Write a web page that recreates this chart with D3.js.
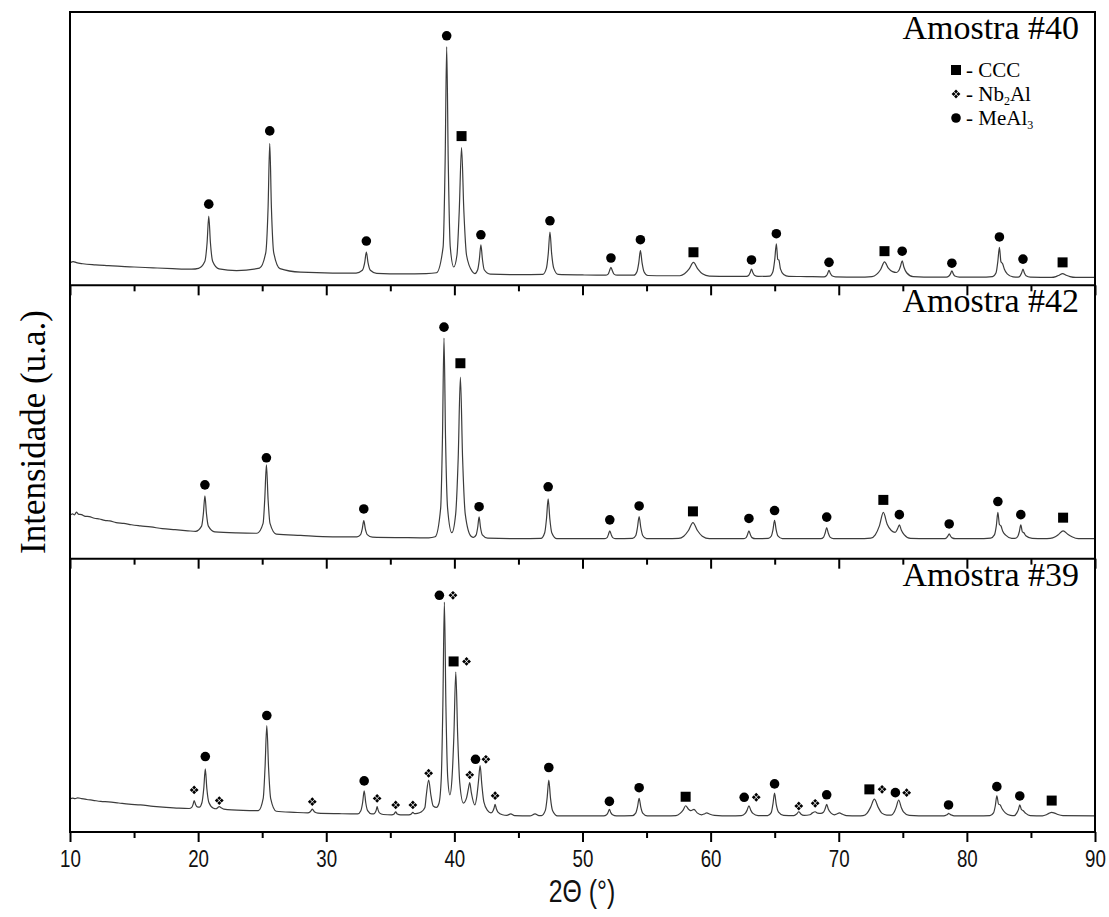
<!DOCTYPE html>
<html>
<head>
<meta charset="utf-8">
<script src="https://cdn.jsdelivr.net/npm/d3@7"></script>
<style>
  html, body { margin: 0; padding: 0; background: #fff; }
  svg { display: block; }
</style>
</head>
<body>
<svg id="chart" width="1109" height="917"></svg>
<script>
// X-ray diffraction patterns, intensity in arbitrary units (0-100 per panel)
const sampleNames = ["Amostra #40", "Amostra #42", "Amostra #39"];
const xTicksMajor = [10, 20, 30, 40, 50, 60, 70, 80, 90];
const xTicksMinor = [15, 25, 35, 45, 55, 65, 75, 85];
const phaseLegend = [
  { code: "C", text: "- CCC", sub: null, tail: "" },
  { code: "N", text: "- Nb", sub: "2", tail: "Al" },
  { code: "M", text: "- MeAl", sub: "3", tail: "" }
];

// [2θ, intensity]
const profile40 = [
  [10,8.2],[10.25,8.7],[10.5,8.3],[11,7.9],[12,7.5],[13,7.2],[14,6.9],[15,6.7],[16.5,6.4],[18,6.1],[19.5,5.9],
  [20.03,6.2],[20.52,8.7],[20.70,15.6],[20.83,25.3],[20.96,15.6],[21.14,8.7],[21.63,6.0],
  [23,5.4],
  [24.79,6.3],[25.28,12.0],[25.46,28.5],[25.59,51.9],[25.72,28.5],[25.9,12.0],[26.39,6.1],
  [28,4.8],[30.5,4.5],
  [32.33,4.5],[32.82,5.5],[33.0,8.3],[33.13,12.2],[33.26,8.3],[33.44,5.5],[33.93,4.4],
  [36,4.2],[37.8,4.3],
  [38.6,4.6],[39.12,14],[39.28,45.7],[39.4,87.3],[39.52,45.7],[39.68,14],[39.95,6.7],
  [40.2,11.0],[40.38,27.2],[40.56,50.4],[40.74,27.2],[40.95,11.0],[41.4,5.0],
  [41.6,4.3],[41.82,5.7],[41.95,9.5],[42.07,14.8],[42.19,9.5],[42.33,5.7],[42.8,4.1],
  [45,3.9],
  [46.9,4.0],[47.18,6.2],[47.33,11.7],[47.46,19.5],[47.59,11.7],[47.76,6.2],[48.1,4.0],
  [50,3.8],
  [51.8,3.7],[52.0,4.1],[52.1,5.2],[52.22,6.6],[52.34,5.2],[52.46,4.1],[52.7,3.7],
  [54.0,3.7],[54.25,5.0],[54.39,8.2],[54.52,12.7],[54.65,8.2],[54.8,5.0],[55.1,3.6],
  [56.5,3.5],
  [57.6,3.5],[57.96,4.2],[58.31,5.9],[58.66,8.4],[59.01,5.9],[59.36,4.2],[59.9,3.4],
  [61.5,3.3],
  [62.8,3.3],[62.98,3.7],[63.08,4.6],[63.19,5.9],[63.3,4.6],[63.42,3.7],[63.7,3.3],
  [64.6,3.4],[64.86,5.0],[65.0,9.2],[65.13,15.2],[65.24,9.5],[65.33,9.2],[65.45,6.0],[65.7,4.0],[66.1,3.3],
  [67.5,3.2],
  [68.85,3.1],[69.03,3.5],[69.13,4.3],[69.24,5.5],[69.35,4.3],[69.47,3.5],[69.75,3.1],
  [71.5,3.0],
  [72.6,3.2],[72.95,4.0],[73.27,5.8],[73.57,8.6],[73.87,6.3],[74.2,5.0],[74.5,4.7],[74.7,5.5],[74.82,7.0],[74.95,9.0],[75.09,6.6],[75.3,4.6],[75.8,3.2],
  [77.5,3.0],
  [78.4,3.0],[78.6,3.4],[78.72,4.2],[78.83,5.3],[78.94,4.2],[79.06,3.4],[79.4,3.0],
  [81,3.0],
  [82.0,3.2],[82.28,4.6],[82.41,8.5],[82.54,13.9],[82.66,8.6],[82.78,8.0],[82.92,6.0],[83.15,4.2],[83.6,3.1],
  [84.0,3.0],[84.16,3.5],[84.27,4.5],[84.38,5.9],[84.49,4.5],[84.62,3.5],[84.95,3.0],
  [86.6,2.9],[86.95,3.2],[87.2,3.7],[87.47,4.3],[87.75,3.7],[88.05,3.2],[88.5,2.9],
  [90,2.9]
];

const profile42 = [
  [10,15.9],[10.2,16.4],[10.35,16.0],[10.5,17.0],[10.65,16.3],[10.9,16.1],[11.2,15.5],[11.5,15.4],[11.9,14.8],[12.3,14.5],
  [12.7,14.0],[13.1,13.8],[13.6,13.2],[14.2,12.9],[14.8,12.4],[15.5,12.0],[16.3,11.6],[17.2,11.0],[18.2,10.6],[19.2,10.2],
  [19.8,10.0],[20.27,11.9],[20.41,16.5],[20.53,23.0],[20.65,16.5],[20.8,11.9],[21.3,9.8],
  [23,9.4],
  [24.6,9.3],[25.07,12.9],[25.2,21.7],[25.33,34.3],[25.46,21.7],[25.61,12.9],[26.1,9.0],
  [28,8.5],[30.5,8.0],
  [32.4,8.0],[32.68,8.8],[32.81,10.9],[32.93,13.9],[33.05,10.9],[33.2,8.8],[33.6,7.9],
  [36,7.7],[38,7.6],
  [38.5,8.0],[38.93,18.5],[39.07,44.1],[39.19,80.7],[39.31,44.1],[39.47,18.5],[39.8,9.5],
  [40.1,16.3],[40.3,37.0],[40.47,66.4],[40.64,37.0],[40.85,16.3],[41.3,8.2],
  [41.5,7.8],[41.7,8.7],[41.82,11.4],[41.93,15.3],[42.04,11.4],[42.18,8.7],[42.6,7.5],
  [45,7.3],
  [46.75,7.4],[47.05,9.5],[47.19,14.6],[47.32,21.9],[47.45,14.6],[47.6,9.5],[48.0,7.3],
  [50,7.3],
  [51.7,7.3],[51.92,7.7],[52.02,8.8],[52.13,10.2],[52.24,8.8],[52.36,7.7],[52.6,7.3],
  [53.9,7.4],[54.16,8.5],[54.29,11.4],[54.42,15.4],[54.55,11.4],[54.7,8.5],[55.0,7.3],
  [56.5,7.3],
  [57.5,7.4],[57.9,8.2],[58.27,10.3],[58.62,13.2],[58.97,10.3],[59.35,8.2],[59.9,7.3],
  [61.5,7.3],
  [62.55,7.3],[62.77,7.7],[62.88,8.8],[62.99,10.2],[63.1,8.8],[63.23,7.7],[63.5,7.3],
  [64.5,7.4],[64.74,8.3],[64.87,10.7],[64.99,14.0],[65.11,10.7],[65.25,8.3],[65.6,7.3],
  [67.5,7.3],
  [68.6,7.3],[68.82,7.9],[68.94,9.4],[69.06,11.4],[69.18,9.4],[69.32,7.9],[69.6,7.3],
  [71.5,7.3],
  [72.5,7.5],[72.85,8.7],[73.18,12.1],[73.48,16.9],[73.78,12.6],[74.1,10.3],[74.4,9.6],[74.6,11.0],[74.73,12.4],[74.88,10.5],[75.1,8.8],[75.6,7.4],
  [77,7.3],
  [78.2,7.3],[78.4,7.6],[78.52,8.3],[78.62,9.1],[78.72,8.3],[78.85,7.6],[79.1,7.3],
  [80.8,7.3],
  [81.85,7.5],[82.15,8.7],[82.3,12.1],[82.42,16.9],[82.54,12.5],[82.66,12.0],[82.8,10.0],[83.05,8.5],[83.5,7.4],
  [83.75,7.4],[83.98,8.2],[84.1,10.0],[84.21,12.4],[84.33,9.8],[84.45,9.5],[84.6,8.4],[85.1,7.4],
  [86,7.3],
  [86.5,7.4],[86.9,8.0],[87.15,8.8],[87.51,10.2],[87.9,8.8],[88.2,8.0],[88.7,7.3],
  [90,7.3]
];

const profile39 = [
  [10,12.1],[10.2,12.4],[10.4,12.2],[10.6,12.5],[10.9,12.2],[11.3,11.9],[11.8,11.6],[12.4,11.2],[13,11.0],[13.8,10.6],
  [14.6,10.2],[15.5,9.9],[16.5,9.4],[17.5,9.0],[18.5,8.7],
  [19.3,8.6],[19.5,9.0],[19.6,10.0],[19.69,11.5],[19.8,10.1],[19.93,9.2],[20.1,9.1],
  [20.3,10.8],[20.44,15.9],[20.56,23.1],[20.68,15.9],[20.84,10.8],[21.2,8.7],
  [21.4,8.5],[21.55,9.0],[21.65,9.3],[21.76,9.0],[22.0,8.4],
  [23.5,7.9],
  [24.7,7.8],[25.08,12.3],[25.22,23.3],[25.36,38.9],[25.5,23.3],[25.66,12.3],[26.1,7.6],
  [27.5,7.2],
  [28.55,7.0],[28.75,7.4],[28.83,7.9],[28.91,8.4],[29.0,7.9],[29.1,7.3],[29.35,6.9],
  [31,6.7],
  [32.45,6.6],[32.7,7.8],[32.84,10.8],[32.96,15.1],[33.08,10.8],[33.23,7.8],[33.55,6.6],
  [33.7,6.6],[33.83,7.2],[33.9,8.0],[33.97,9.3],[34.05,8.0],[34.15,7.0],[34.45,6.4],
  [35.1,6.3],[35.3,6.6],[35.42,7.4],[35.54,6.6],[35.8,6.3],
  [36.45,6.3],[36.64,6.6],[36.76,7.2],[36.88,6.7],[37.1,6.8],
  [37.4,7.3],[37.7,9.0],[37.8,13.1],[37.99,19.0],[38.18,13.1],[38.35,9.5],[38.6,9.0],
  [38.8,10.5],[38.98,20],[39.1,46],[39.22,84.1],[39.34,46],[39.48,20],[39.65,13.6],
  [39.82,20],[39.96,35],[40.11,58.5],[40.26,35],[40.42,18],[40.7,10.6],
  [40.95,12.5],[41.08,15.5],[41.2,18.1],[41.32,14.5],[41.6,9.9],
  [41.75,13],[41.88,18.5],[42.01,24.3],[42.14,17.5],[42.3,11],[42.6,7.8],
  [42.85,7.0],[43.02,7.8],[43.1,8.8],[43.18,10.1],[43.27,8.6],[43.4,7.3],[43.75,6.3],
  [44.1,6.1],[44.4,6.6],[44.7,6.0],
  [45.9,5.9],[46.3,6.6],[46.6,6.0],
  [46.8,6.0],[47.1,7.9],[47.24,12.5],[47.37,19.0],[47.5,12.5],[47.66,7.9],[48.05,5.9],
  [50,5.9],
  [51.65,5.9],[51.88,6.3],[51.99,7.1],[52.1,8.3],[52.21,7.1],[52.35,6.3],[52.65,5.9],
  [53.9,6.0],[54.15,6.9],[54.29,9.1],[54.42,12.3],[54.55,9.1],[54.7,6.9],[55.05,5.9],
  [56.5,5.9],
  [57.3,6.0],[57.62,6.8],[57.85,8.0],[58.05,9.6],[58.28,8.3],[58.45,7.8],[58.7,8.3],[58.95,7.0],[59.3,6.3],[59.55,6.7],[59.7,7.0],[59.9,6.6],[60.3,6.1],
  [61.5,5.9],
  [62.4,6.0],[62.7,6.8],[62.85,8.0],[62.99,9.6],[63.13,8.0],[63.3,6.8],[63.7,6.0],
  [64.45,6.0],[64.73,7.1],[64.86,10.1],[64.99,14.2],[65.12,10.1],[65.3,7.3],[65.7,6.1],
  [66.5,6.0],[66.72,6.6],[66.88,7.4],[67.04,6.6],[67.3,6.1],
  [67.75,6.3],[67.95,7.0],[68.16,7.4],[68.35,6.9],[68.6,6.8],
  [68.8,7.2],[68.93,8.4],[69.06,10.1],[69.19,8.3],[69.4,6.9],[69.65,6.3],
  [69.85,6.6],[70.05,7.0],[70.3,6.5],[70.6,6.0],
  [71.5,5.9],
  [71.9,6.0],[72.2,6.8],[72.48,9.0],[72.78,12.0],[73.08,9.0],[73.36,6.9],[73.75,6.2],
  [74.1,6.2],[74.33,7.3],[74.48,9.0],[74.68,11.7],[74.88,9.0],[75.05,7.4],[75.5,6.1],
  [77,5.9],
  [78.2,5.9],[78.4,6.2],[78.5,6.5],[78.57,6.8],[78.68,6.5],[78.8,6.2],[79.0,5.9],
  [80.8,5.9],
  [81.8,6.0],[82.08,7.0],[82.22,9.6],[82.34,13.2],[82.47,10.2],[82.6,9.9],[82.75,8.5],[83.0,7.0],[83.4,6.1],
  [83.7,6.0],[83.9,7.0],[84.02,8.2],[84.13,9.9],[84.25,8.3],[84.4,7.8],[84.6,6.8],[84.95,6.0],
  [85.9,5.9],[86.2,6.3],[86.4,6.8],[86.62,7.2],[86.85,6.9],[87.1,6.4],[87.5,6.0],
  [90,5.9]
];

// Phase identification marks: [phase, 2θ, intensity level]
// C = CCC, N = Nb2Al, M = MeAl3
const markers40 = [
  ["M",20.83,29.7],["M",25.59,56.5],["M",33.13,16.2],["M",39.4,91.3],["C",40.56,54.6],["M",42.07,18.5],
  ["M",47.46,23.6],["M",52.22,10.0],["M",54.52,16.7],["C",58.66,12.1],["M",63.19,9.3],["M",65.13,18.9],
  ["M",69.24,8.4],["C",73.57,12.5],["M",74.95,12.5],["M",78.83,8.1],["M",82.54,17.7],["M",84.38,9.6],
  ["C",87.47,8.4]
];
const markers42 = [
  ["M",20.53,27.0],["M",25.33,36.9],["M",32.93,18.2],["M",39.19,84.7],["C",40.47,71.5],["M",41.93,19.0],
  ["M",47.32,26.3],["M",52.13,14.2],["M",54.42,19.3],["C",58.62,17.3],["M",62.99,14.7],["M",64.99,17.6],
  ["M",69.06,15.2],["C",73.48,21.5],["M",74.73,16.1],["M",78.62,12.7],["M",82.42,20.9],["M",84.21,16.1],
  ["C",87.51,15.0]
];
const markers39 = [
  ["N",19.69,15.4],["M",20.56,27.6],["N",21.65,11.5],["M",25.36,42.6],["N",28.91,11.1],["M",32.96,18.7],
  ["N",33.97,12.3],["N",35.42,9.9],["N",36.76,9.9],["N",37.99,21.5],["M",38.83,86.6],["N",39.89,86.6],
  ["C",39.94,62.4],["N",40.95,62.4],["N",41.2,20.9],["M",41.65,26.6],["N",42.46,26.6],["N",43.18,13.3],
  ["M",47.37,23.6],["M",52.1,11.2],["M",54.42,16.2],["C",58.05,12.9],["M",62.62,12.7],["N",63.56,12.7],
  ["M",64.99,17.6],["N",66.88,9.5],["N",68.16,10.5],["M",69.06,13.6],["C",72.39,15.6],["N",73.38,15.6],
  ["M",74.42,14.4],["N",75.3,14.4],["M",78.57,9.9],["M",82.34,16.6],["M",84.13,13.2],["C",86.62,11.5]
];

const panels = [
  { name: sampleNames[0], profile: profile40, marks: markers40 },
  { name: sampleNames[1], profile: profile42, marks: markers42 },
  { name: sampleNames[2], profile: profile39, marks: markers39 }
];

// ---- layout ----
const svg = d3.select("#chart");
const plotLeft = 70, plotRight = 1095, plotTop = 12, plotBottom = 832;
const ph = (plotBottom - plotTop) / panels.length;
const serif = "'Liberation Serif', 'Times New Roman', serif";
const sans = "'Liberation Sans', Arial, sans-serif";

const x = d3.scaleLinear().domain([10, 90]).range([plotLeft, plotRight]);

// Nb2Al mark: four small diamonds around an empty centre
const quadDiamond = {
  draw(ctx, size) {
    const r = Math.sqrt(size) / 2;      // overall half-extent
    const o = r * 0.55, s = r * 0.45;   // offset and half-diagonal of each diamond
    [[0,-o],[o,0],[0,o],[-o,0]].forEach(([cx, cy]) => {
      ctx.moveTo(cx, cy - s);
      ctx.lineTo(cx + s, cy);
      ctx.lineTo(cx, cy + s);
      ctx.lineTo(cx - s, cy);
      ctx.closePath();
    });
  }
};
const symbolFor = {
  C: d3.symbol().type(d3.symbolSquare).size(100)(),
  N: d3.symbol().type(quadDiamond).size(78)(),
  M: d3.symbol().type(d3.symbolCircle).size(72)()
};

panels.forEach((p, i) => {
  const y0 = plotTop + (i + 1) * ph, y1 = plotTop + i * ph;
  const y = d3.scaleLinear().domain([0, 100]).range([y0, y1]);
  const g = svg.append("g");

  const line = d3.line()
    .x(d => x(d[0]))
    .y(d => y(d[1]))
    .curve(d3.curveMonotoneX);

  g.append("path")
    .datum(p.profile)
    .attr("d", line)
    .attr("fill", "none")
    .attr("stroke", "#3c3c3c")
    .attr("stroke-width", 1.2)
    .attr("stroke-linejoin", "round");

  g.selectAll("path.mark")
    .data(p.marks)
    .join("path")
    .attr("class", "mark")
    .attr("d", d => symbolFor[d[0]])
    .attr("transform", d => `translate(${x(d[1])},${y(d[2])})`)
    .attr("fill", "#000");

  g.append("text")
    .attr("x", 1079)
    .attr("y", y1 + 27)
    .attr("text-anchor", "end")
    .attr("font-family", serif)
    .attr("font-size", 34)
    .attr("fill", "#000")
    .text(p.name);

  // ticks along the lower edge of each panel, pointing down
  const major = d3.axisBottom(x).tickValues(xTicksMajor).tickSize(10)
    .tickFormat(i === panels.length - 1 ? d3.format("d") : "");
  const minor = d3.axisBottom(x).tickValues(xTicksMinor).tickSize(6).tickFormat("");
  [major, minor].forEach(ax => {
    const a = svg.append("g").attr("transform", `translate(0,${y0})`).call(ax);
    a.select(".domain").remove();
    a.selectAll(".tick line").attr("stroke", "#000").attr("stroke-width", 2);
    // condensed numerals
    a.selectAll(".tick text")
      .attr("font-family", sans)
      .attr("font-size", 24)
      .attr("fill", "#111")
      .attr("dy", "0.95em")
      .attr("y", 12)
      .attr("transform", "scale(0.78,1)");
  });

  if (i > 0) {
    svg.append("line")
      .attr("x1", plotLeft).attr("x2", plotRight)
      .attr("y1", y1).attr("y2", y1)
      .attr("stroke", "#000").attr("stroke-width", 2);
  }
});

// outer frame
svg.append("rect")
  .attr("x", plotLeft).attr("y", plotTop)
  .attr("width", plotRight - plotLeft).attr("height", plotBottom - plotTop)
  .attr("fill", "none").attr("stroke", "#000").attr("stroke-width", 2);

// legend
const legend = svg.append("g").attr("font-family", serif).attr("font-size", 21);
phaseLegend.forEach((d, k) => {
  const ly = 70 + k * 24;
  legend.append("path")
    .attr("d", symbolFor[d.code])
    .attr("transform", `translate(956,${ly})`)
    .attr("fill", "#000");
  const t = legend.append("text").attr("x", 966).attr("y", ly + 7);
  t.append("tspan").text(d.text);
  if (d.sub) {
    t.append("tspan").attr("font-size", 12).attr("dy", 4).text(d.sub);
    if (d.tail) t.append("tspan").attr("dy", -4).text(d.tail);
  }
});

// axis titles
svg.append("text")
  .attr("transform", "translate(45,432) rotate(-90)")
  .attr("text-anchor", "middle")
  .attr("font-family", serif)
  .attr("font-size", 35)
  .attr("fill", "#000")
  .text("Intensidade (u.a.)");

svg.append("text")
  .attr("transform", "translate(582,902) scale(0.8,1)")
  .attr("text-anchor", "middle")
  .attr("font-family", sans)
  .attr("font-size", 31)
  .attr("fill", "#111")
  .text("2Θ (°)");
</script>
</body>
</html>
